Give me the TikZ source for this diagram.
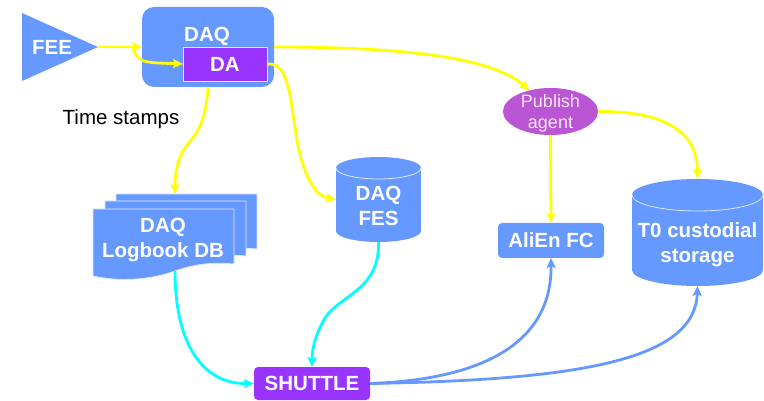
\documentclass[tikz,border=0pt]{standalone}
\usepackage{fontspec}
\setmainfont{Liberation Sans}
\usetikzlibrary{arrows.meta,shapes.geometric}

\definecolor{daqblue}{RGB}{102,153,255}
\definecolor{shpurple}{RGB}{153,51,255}
\definecolor{pubmag}{RGB}{186,85,211}
\definecolor{flowyellow}{RGB}{255,255,0}
\definecolor{flowcyan}{RGB}{0,255,255}
\definecolor{rimwhite}{RGB}{222,230,255}
\definecolor{pubtext}{RGB}{246,232,250}

\newcommand\logpage{%
  (93,209) -- (234,209) -- (234,264)
  .. controls (212,262) and (195,264) .. (175,271)
  .. controls (150,280) and (120,282) .. (93,276) -- cycle}

\begin{document}
\begin{tikzpicture}[x=1pt,y=-1pt,
  lbl/.style={font=\bfseries\fontsize{20.5}{25}\selectfont, text=white, align=center, inner sep=0pt},
  area/.style={inner sep=0pt, outer sep=0pt},
  docpage/.style={fill=daqblue, draw=rimwhite, line width=0.8pt},
  rim/.style={draw=rimwhite, line width=0.8pt},
  flow/.style={line width=2.8pt, -{Stealth[length=10pt,width=9pt,inset=2pt]}}]

\useasboundingbox (0,0) rectangle (764,401);

% ---------- front-end electronics ----------
\fill[daqblue] (22,13) -- (98,47) -- (22,81) -- cycle;
\node[lbl] (fee) at (52,47) {FEE};
\coordinate (feetip) at (98,47);

% ---------- DAQ with its detector algorithm ----------
\node[area, fill=daqblue, rounded corners=12pt, minimum width=132pt, minimum height=80pt] (daq) at (208,47) {};
\node[lbl] (daqlbl) at (207,36) {DAQ};
\node[area, lbl, fill=shpurple, rim, minimum width=84pt, minimum height=34pt] (da) at (225,64) {DA};
\coordinate (branch) at (133,47);

\node[font=\fontsize{20.5}{25}\selectfont, inner sep=0pt] (ts) at (121,119) {Time stamps};

% ---------- logbook: three stacked pages ----------
\path[docpage, shift={(23,-15)}] \logpage;
\path[docpage, shift={(12,-8)}] \logpage;
\path[docpage] \logpage;
\node[lbl] (loglbl) at (163,240) {DAQ\\[-0.5pt]Logbook DB};
\coordinate (logtop) at (175,194);
\coordinate (logbot) at (175,271);

% ---------- DAQ file exchange server ----------
\fill[daqblue] (336,168) rectangle (421,231);
\fill[daqblue] (378.5,231) ellipse [x radius=42.5pt, y radius=11pt];
\fill[daqblue] (378.5,168) ellipse [x radius=42.5pt, y radius=11pt];
\draw[rim] (336,168) arc[start angle=180, end angle=360, x radius=42.5pt, y radius=11pt];
\node[area, minimum width=85pt, minimum height=85pt] (fes) at (378.5,199.5) {};
\node[lbl] (feslbl) at (378.5,205.5) {DAQ\\FES};

% ---------- publish agent ----------
\node[area, ellipse, fill=pubmag, minimum width=95pt, minimum height=47pt] (pub) at (550.5,111.5) {};
\node[font=\fontsize{18}{21}\selectfont, text=pubtext, align=center, inner sep=0pt] (publbl) at (550.5,113) {Publish\\agent};

% ---------- AliEn file catalogue ----------
\node[area, lbl, fill=daqblue, rounded corners=4pt, minimum width=106pt, minimum height=35pt] (alien) at (551,240.5) {AliEn FC};

% ---------- T0 custodial storage ----------
\fill[daqblue] (632,195) rectangle (763,270);
\fill[daqblue] (697.5,270) ellipse [x radius=65.5pt, y radius=16pt];
\fill[daqblue] (697.5,195) ellipse [x radius=65.5pt, y radius=16pt];
\draw[rim] (632,195) arc[start angle=180, end angle=360, x radius=65.5pt, y radius=16pt];
\node[area, minimum width=131pt, minimum height=107pt] (t0) at (697.5,232.5) {};
\node[lbl] (t0lbl) at (697.5,244.5) {T0 custodial\\storage};

% ---------- SHUTTLE ----------
\node[area, lbl, fill=shpurple, rounded corners=4pt, minimum width=116pt, minimum height=33pt] (shuttle) at (312,383.5) {SHUTTLE};

% ---------- data flow ----------
\draw[flow, flowyellow] (feetip) -- (daq.west);
\draw[flow, flowyellow] (branch) .. controls (136,60) and (142,62) .. (158,63) -- (da.west);
\draw[flow, flowyellow] (daq.east) .. controls (420,47) and (495,60) .. (pub.135);
\draw[flow, flowyellow] (da.east) .. controls (290,62) and (290,100) .. (297,140)
                                  .. controls (303,175) and (315,196) .. (fes.west);
\draw[flow, flowyellow] (daq.south) .. controls (206,125) and (195,135) .. (185,148)
                                    .. controls (177,160) and (175,175) .. (logtop);
\draw[flow, flowyellow] (pub.south) -- (alien.north);
\draw[flow, flowyellow] (pub.east) .. controls (670,111) and (697.5,135) .. (t0.north);

\draw[flow, flowcyan] (logbot) .. controls (175,340) and (200,384) .. (shuttle.west);
\draw[flow, flowcyan] (fes.south) .. controls (380,290) and (340,295) .. (325,318)
                                  .. controls (315,335) and (312,350) .. (shuttle.north);

\draw[flow, daqblue] (shuttle.east) .. controls (470,380) and (552,350) .. (alien.south);
\draw[flow, daqblue] (shuttle.east) .. controls (580,380) and (695,360) .. (t0.south);
\end{tikzpicture}
\end{document}
